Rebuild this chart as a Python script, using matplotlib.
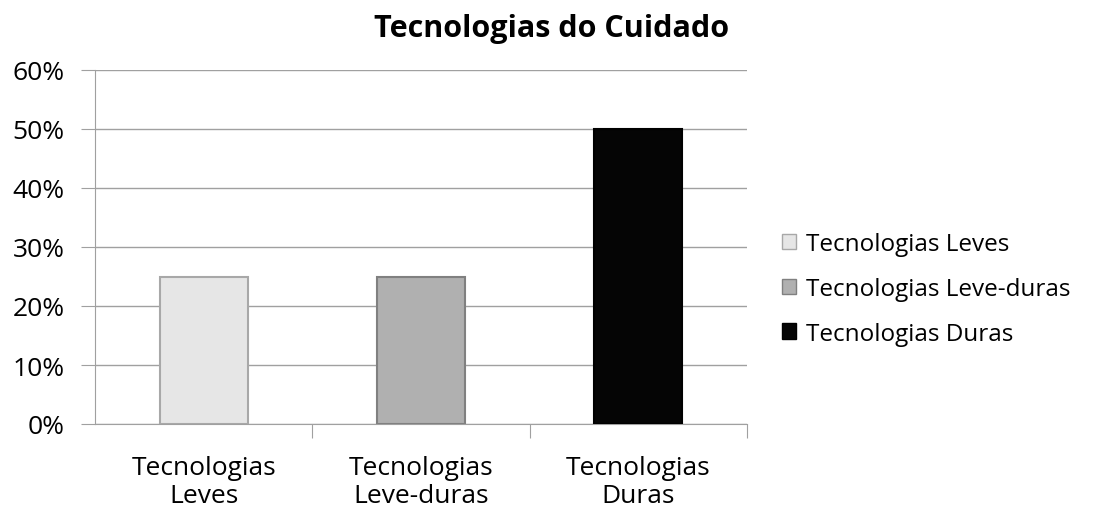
import matplotlib.pyplot as plt
from matplotlib.patches import Patch

# data
categories = ["Tecnologias\nLeves", "Tecnologias\nLeve-duras", "Tecnologias\nDuras"]
legend_labels = ["Tecnologias Leves", "Tecnologias Leve-duras", "Tecnologias Duras"]
values = [25, 25, 50]
colors = ["#e6e6e6", "#b0b0b0", "#050505"]
edges = ["#a8a8a8", "#808080", "#000000"]

plt.rcParams["font.family"] = ["Open Sans", "DejaVu Sans"]

fig = plt.figure(figsize=(10.97, 5.10), dpi=100)
ax = fig.add_axes([95 / 1097, 1 - 425 / 510, (747 - 95) / 1097, (425 - 71) / 510])

x = range(len(values))
ax.bar(x, values, width=0.405, color=colors, edgecolor=edges, linewidth=1.5, zorder=3)

ax.set_xlim(-0.5, 2.5)
ax.set_ylim(0, 60)
ax.set_yticks(range(0, 61, 10))
ax.set_yticklabels([f"{v}%" for v in range(0, 61, 10)], fontsize=19)
ax.yaxis.grid(True, color="#a0a0a0", linewidth=1, zorder=0)

# category labels between boundary ticks
ax.set_xticks([0.5, 1.5, 2.5])
ax.set_xticklabels([])
ax.set_xticks(list(x), minor=True)
ax.set_xticklabels(categories, minor=True, fontsize=19, linespacing=1.2)
ax.tick_params(axis="x", which="minor", length=0, pad=22)
ax.tick_params(axis="x", which="major", length=10, color="#a0a0a0")
ax.tick_params(axis="y", length=10, color="#a0a0a0", pad=12)

for s in ["top", "right"]:
    ax.spines[s].set_visible(False)
for s in ["left", "bottom"]:
    ax.spines[s].set_color("#a0a0a0")

fig.text(552 / 1097, 1 - 29 / 510, "Tecnologias do Cuidado", ha="center", va="center",
         fontsize=22, fontweight="bold")

handles = [Patch(facecolor=c, edgecolor=e) for c, e in zip(colors, edges)]
fig.legend(handles, legend_labels, loc="center left", bbox_to_anchor=(760 / 1097, 1 - 290 / 510),
           frameon=False, fontsize=17.5, handlelength=0.6, handleheight=0.6,
           handletextpad=0.4, labelspacing=0.85)

fig.savefig("out.png", dpi=100)
